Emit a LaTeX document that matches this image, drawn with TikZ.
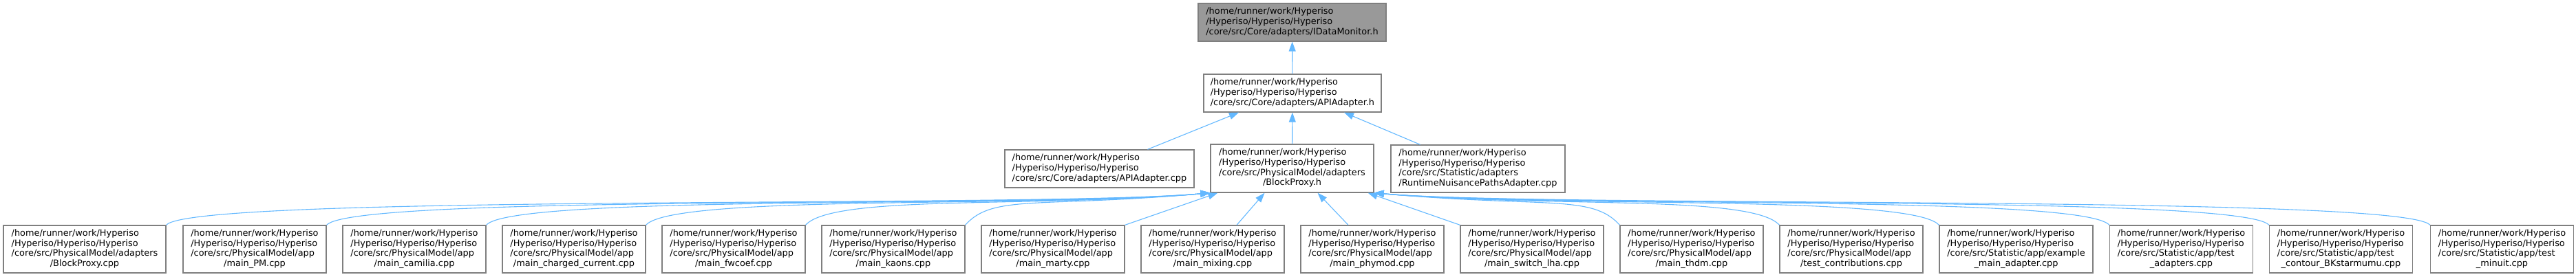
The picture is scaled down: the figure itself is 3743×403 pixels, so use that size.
\documentclass[tikz,border=0pt]{standalone}
\usepackage{fontspec}
\setmainfont{DejaVu Sans}
\usetikzlibrary{arrows.meta}
\definecolor{edgeblue}{HTML}{63B8FF}
\definecolor{boxline}{HTML}{7F7F7F}
\definecolor{rootfill}{HTML}{999999}
\newcommand{\threelines}[3]{\begin{tabular}{@{}l@{}}#1\\#2\\#3\end{tabular}}
\newcommand{\fourlines}[4]{\begin{tabular}{@{}l@{}}#1\\#2\\#3\\\multicolumn{1}{@{}c@{}}{#4}\end{tabular}}
\newcommand{\hfile}[2]{\fourlines{/home/runner/work/Hyperiso}{/Hyperiso/Hyperiso/Hyperiso}{#1}{#2}}
\newcommand{\hheader}[1]{\threelines{/home/runner/work/Hyperiso}{/Hyperiso/Hyperiso/Hyperiso}{#1}}
\begin{document}
\begin{tikzpicture}[x=1pt,y=1pt,
  file/.style={draw=boxline,line width=1.3pt,fill=white,inner sep=0pt,
    minimum width=208pt,minimum height=69pt,font=\fontsize{12.9}{14.7}\selectfont},
  root/.style={file,fill=rootfill},
  dep/.style={edgeblue,line width=1.1pt,-{Triangle[length=14pt,width=10pt]}}]
  \useasboundingbox (0,0) rectangle (3743,403);
  % monitored header at the top:
  \node[root,minimum width=273pt,minimum height=55pt] (monitor) at (1877.5,370.5)
    {\hheader{/core/src/Core/adapters/IDataMonitor.h}};
  % adapter header:
  \node[file,minimum width=258pt,minimum height=55pt] (apih) at (1878,267.5)
    {\hheader{/core/src/Core/adapters/APIAdapter.h}};
  % middle row:
  \node[file,minimum width=275pt,minimum height=55pt] (apicpp) at (1597.5,157.5)
    {\hheader{/core/src/Core/adapters/APIAdapter.cpp}};
  \node[file,minimum width=237pt,minimum height=70pt] (proxyh) at (1877.5,158)
    {\hfile{/core/src/PhysicalModel/adapters}{/BlockProxy.h}};
  \node[file,minimum width=253pt] (runtime) at (2147.5,157.5)
    {\hfile{/core/src/Statistic/adapters}{/RuntimeNuisancePathsAdapter.cpp}};
  % bottom row, files including BlockProxy.h:
  \node[file,minimum width=236pt] (proxycpp) at (123,40.5)
    {\hfile{/core/src/PhysicalModel/adapters}{/BlockProxy.cpp}};
  \node[file] (mainpm) at (370,40.5) {\hfile{/core/src/PhysicalModel/app}{/main\_PM.cpp}};
  \node[file] (camilia) at (602,40.5) {\hfile{/core/src/PhysicalModel/app}{/main\_camilia.cpp}};
  \node[file] (charged) at (834,40.5) {\hfile{/core/src/PhysicalModel/app}{/main\_charged\_current.cpp}};
  \node[file] (fwcoef) at (1066,40.5) {\hfile{/core/src/PhysicalModel/app}{/main\_fwcoef.cpp}};
  \node[file] (kaons) at (1298,40.5) {\hfile{/core/src/PhysicalModel/app}{/main\_kaons.cpp}};
  \node[file] (marty) at (1530,40.5) {\hfile{/core/src/PhysicalModel/app}{/main\_marty.cpp}};
  \node[file] (mixing) at (1762,40.5) {\hfile{/core/src/PhysicalModel/app}{/main\_mixing.cpp}};
  \node[file] (phymod) at (1994,40.5) {\hfile{/core/src/PhysicalModel/app}{/main\_phymod.cpp}};
  \node[file] (switchlha) at (2226,40.5) {\hfile{/core/src/PhysicalModel/app}{/main\_switch\_lha.cpp}};
  \node[file] (thdm) at (2458,40.5) {\hfile{/core/src/PhysicalModel/app}{/main\_thdm.cpp}};
  \node[file] (contrib) at (2690,40.5) {\hfile{/core/src/PhysicalModel/app}{/test\_contributions.cpp}};
  \node[file,minimum width=223pt] (example) at (2929.5,40.5)
    {\hfile{/core/src/Statistic/app/example}{\_main\_adapter.cpp}};
  \node[file] (tadapters) at (3169.5,40.5) {\hfile{/core/src/Statistic/app/test}{\_adapters.cpp}};
  \node[file] (contour) at (3401.5,40.5) {\hfile{/core/src/Statistic/app/test}{\_contour\_BKstarmumu.cpp}};
  \node[file] (minuit) at (3635.5,40.5) {\hfile{/core/src/Statistic/app/test}{\_minuit.cpp}};
  % upper edges:
  \draw[dep] (apih) -- (monitor);
  \draw[dep] ([xshift=70pt]apicpp.north) -- ([xshift=-78pt]apih.south);
  \draw[dep] (proxyh) -- (apih);
  \draw[dep] ([xshift=-84pt]runtime.north) -- ([xshift=75pt]apih.south);
  % left bundle into the corner of BlockProxy.h:
  \draw[dep] (proxycpp.north east) .. controls +(40,45) and +(-250,-22) .. (proxyh.south west);
  \draw[dep] (mainpm.north east) .. controls +(40,45) and +(-250,-22) .. (proxyh.south west);
  \draw[dep] (camilia.north east) .. controls +(40,45) and +(-250,-22) .. (proxyh.south west);
  \draw[dep] (charged.north east) .. controls +(40,45) and +(-250,-22) .. (proxyh.south west);
  \draw[dep] (fwcoef.north east) .. controls +(40,45) and +(-250,-22) .. (proxyh.south west);
  \draw[dep] (kaons.north east) .. controls +(40,45) and +(-250,-22) .. (proxyh.south west);
  % short edges:
  \draw[dep] (marty.north east) -- ([xshift=11pt]proxyh.south west);
  \draw[dep] ([xshift=35pt]mixing.north) -- ([xshift=-40pt]proxyh.south);
  \draw[dep] ([xshift=-35pt]phymod.north) -- ([xshift=37pt]proxyh.south);
  \draw[dep] (switchlha.north west) -- ([xshift=-9pt]proxyh.south east);
  % right bundle:
  \draw[dep] (thdm.north west) .. controls +(-40,45) and +(250,-22) .. (proxyh.south east);
  \draw[dep] (contrib.north west) .. controls +(-40,45) and +(250,-22) .. (proxyh.south east);
  \draw[dep] (example.north west) .. controls +(-40,45) and +(250,-22) .. (proxyh.south east);
  \draw[dep] (tadapters.north west) .. controls +(-40,45) and +(250,-22) .. (proxyh.south east);
  \draw[dep] (contour.north west) .. controls +(-40,45) and +(250,-22) .. (proxyh.south east);
  \draw[dep] (minuit.north west) .. controls +(-40,45) and +(250,-22) .. (proxyh.south east);
\end{tikzpicture}
\end{document}
